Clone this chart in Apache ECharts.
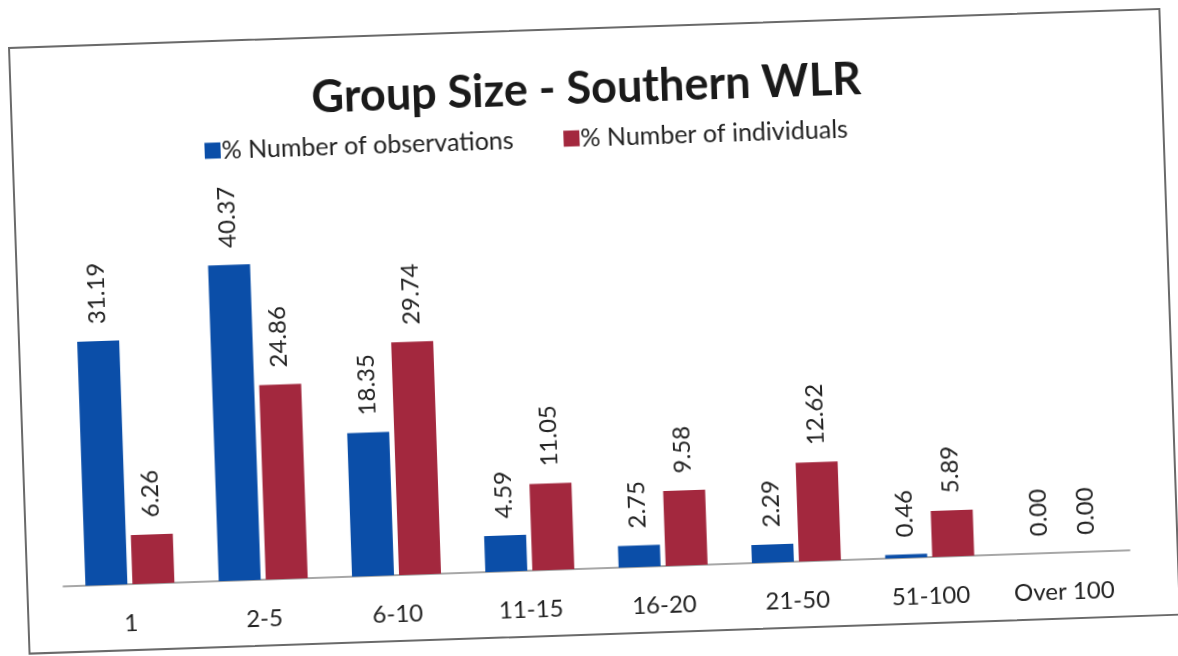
<!DOCTYPE html>
<html>
<head>
<meta charset="utf-8">
<script src="https://cdn.jsdelivr.net/npm/echarts@6/dist/echarts.min.js"></script>
<style>
  html, body { margin: 0; padding: 0; background: #fff; overflow: hidden; }
  #frame {
    position: absolute; left: 8px; top: 47px;
    width: 1153px; height: 608px;
    border: 2px solid #6a6a6a; box-sizing: border-box;
    transform-origin: 0 0; transform: rotate(-1.94deg);
  }
  #chart { width: 100%; height: 100%; }
</style>
</head>
<body>
<div id="frame"><div id="chart"></div></div>
<script>
const categories = ['1', '2-5', '6-10', '11-15', '16-20', '21-50', '51-100', 'Over 100']
const observations = [31.19, 40.37, 18.35, 4.59, 2.75, 2.29, 0.46, 0.00]
const individuals = [6.26, 24.86, 29.74, 11.05, 9.58, 12.62, 5.89, 0.00]

const font = 'Lato, "Open Sans", sans-serif'
const chart = echarts.init(document.getElementById('chart'))

const barLabel = {
  show: true,
  position: 'top',
  rotate: 90,
  align: 'left',
  verticalAlign: 'middle',
  distance: 17,
  fontFamily: font,
  fontSize: 24,
  color: '#222',
  formatter: p => p.value.toFixed(2),
}

chart.setOption({
  animation: false,
  title: {
    text: 'Group Size - Southern WLR',
    left: 'center',
    top: 32,
    textStyle: { fontFamily: font, fontWeight: 'bold', fontSize: 45, color: '#1a1a1a' },
  },
  legend: {
    left: 186,
    top: 91,
    itemWidth: 16,
    itemHeight: 16,
    itemGap: 50,
    icon: 'rect',
    textStyle: { fontFamily: font, fontSize: 25, color: '#222', padding: [0, 0, 0, -4] },
  },
  grid: { left: 35, width: 1067, top: 187, bottom: 65 },
  xAxis: {
    type: 'category',
    data: categories,
    axisTick: { show: false },
    axisLine: { lineStyle: { color: '#8a8a8a', width: 1.5 } },
    axisLabel: { margin: 27, fontFamily: font, fontSize: 24, color: '#222' },
  },
  yAxis: {
    type: 'value',
    min: 0,
    max: 45,
    show: false,
    splitLine: { show: false },
  },
  series: [
    {
      name: '% Number of observations',
      type: 'bar',
      data: observations,
      barWidth: 42,
      barGap: '12%',
      itemStyle: { color: '#0b4ea8' },
      label: barLabel,
    },
    {
      name: '% Number of individuals',
      type: 'bar',
      data: individuals,
      barWidth: 42,
      itemStyle: { color: '#a3283e' },
      label: barLabel,
    },
  ],
})
window.addEventListener('resize', () => chart.resize())
</script>
</body>
</html>
